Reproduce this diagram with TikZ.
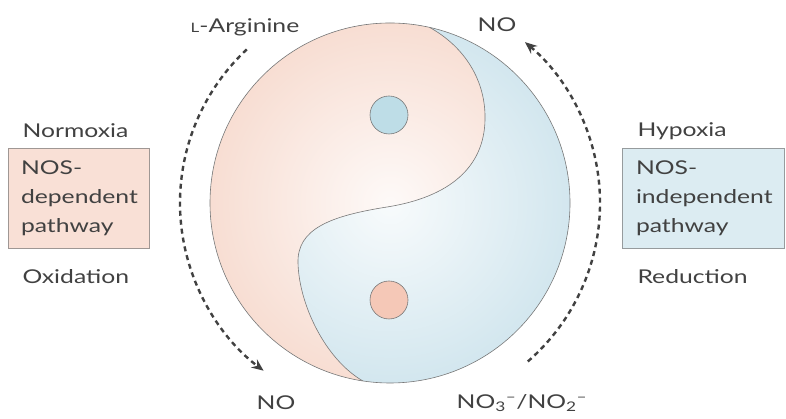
\documentclass[tikz,border=0pt]{standalone}
\usepackage{fontspec}
\setmainfont{Lato}[FakeStretch=1.3]
\definecolor{yinpink}{RGB}{248, 222, 211}
\definecolor{yangblue}{RGB}{211, 231, 239}
\definecolor{dotpink}{RGB}{245, 200, 183}
\definecolor{dotblue}{RGB}{190, 221, 231}
\definecolor{boxpink}{RGB}{249, 224, 214}
\definecolor{boxblue}{RGB}{220, 236, 242}
\definecolor{txtgray}{RGB}{65, 65, 65}
\definecolor{rimgray}{RGB}{120, 120, 120}
\usetikzlibrary{arrows.meta, fadings}
\tikzstyle{pathbox} = [draw, line width=0.8pt, minimum height=100pt, align=left,
                       inner ysep=0pt]
\tikzstyle{dot} = [circle, draw=rimgray, line width=0.6pt, minimum size=38pt, inner sep=0pt]
\tikzstyle{cyclearrow} = [-{Stealth[length=12pt, width=10pt]}, txtgray, line width=2.4pt,
                          dash pattern=on 5pt off 4pt]
\tikzfading[name=glowfade, inner color=transparent!0, outer color=transparent!100]

\begin{document}
\begin{tikzpicture}[x=1pt, y=1pt, font=\fontsize{19}{29}\selectfont, text=txtgray]
\useasboundingbox (0,0) rectangle (786,419);
\coordinate (C) at (390,216);
\coordinate (T) at ([shift={(77.3:180)}]C);
\coordinate (B) at ([shift={(261.3:180)}]C);
% disc
\fill[yangblue] (C) circle (180);
\fill[yinpink] (T) arc[start angle=77.3, end angle=261.3, radius=180]
    .. controls (325,60) and (299,115) .. (298,156)
    .. controls (297,190) and (330,203) .. (387,212)
    .. controls (450,222) and (484,252) .. (485,299)
    .. controls (486,338) and (465,372) .. (T) -- cycle;
\fill[white, path fading=glowfade, fill opacity=0.85] (C) circle (180);
\draw[rimgray, line width=0.6pt] (B)
    .. controls (325,60) and (299,115) .. (298,156)
    .. controls (297,190) and (330,203) .. (387,212)
    .. controls (450,222) and (484,252) .. (485,299)
    .. controls (486,338) and (465,372) .. (T);
\draw[rimgray, line width=0.6pt] (C) circle (180);
\node[dot, fill=dotblue] (dottop) at (389,304) {};
\node[dot, fill=dotpink] (dotbot) at (389,119) {};
% cycle arrows
\draw[cyclearrow] ([shift={(133:210)}]C) arc[start angle=133, end angle=233, radius=210];
\draw[cyclearrow] ([shift={(-49:210)}]C) arc[start angle=-49, end angle=50, radius=210];
% labels
\node (larg) at (245,392) {{\fontsize{13}{13}\selectfont L}-Arginine};
\node (notop) at (497,394) {NO};
\node (nobot) at (276,16) {NO};
\node (nitr) at (522,16) {NO\textsubscript{3}\textsuperscript{--}/NO\textsubscript{2}\textsuperscript{--}};
% left side
\node[anchor=west] (normoxia) at (19,288) {Normoxia};
\node[pathbox, draw=rimgray!70!boxpink, fill=boxpink, text width=115pt, inner xsep=13pt]
    (nosdep) at (78.5,221) {NOS-\\dependent\\pathway};
\node[anchor=west] (oxid) at (19,142) {Oxidation};
% right side
\node[anchor=west] (hypoxia) at (634,288) {Hypoxia};
\node[pathbox, draw=rimgray!70!boxblue, fill=boxblue, text width=134pt, inner xsep=14pt]
    (nosind) at (703,221) {NOS-\\independent\\pathway};
\node[anchor=west] (reduc) at (634,142) {Reduction};
\end{tikzpicture}
\end{document}
